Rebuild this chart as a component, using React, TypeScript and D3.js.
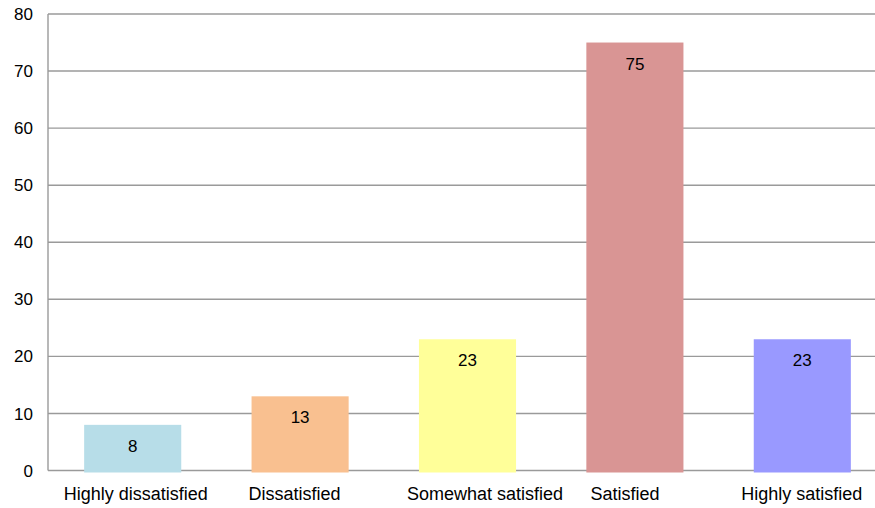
import React from "react";
import * as d3 from "d3";

const categories = ["Highly dissatisfied", "Dissatisfied", "Somewhat satisfied", "Satisfied", "Highly satisfied"];
const values = [8, 13, 23, 75, 23];
const colors = ["#b7dde8", "#f9c090", "#ffff99", "#d99594", "#9999ff"];
const yTicks = [0, 10, 20, 30, 40, 50, 60, 70, 80];
// horizontal nudge of category labels, as seen in the reference
const labelShift = [3, -5.5, 17.5, -10, -0.5];

const W = 875;
const H = 508;
const left = 48;
const top = 14;
const bottom = 470.5;

export default function App() {
  const x = d3.scaleBand<string>().domain(categories).range([left + 1, 886]).paddingInner(0.42).paddingOuter(0.21);
  const y = d3.scaleLinear().domain([0, 80]).range([bottom, top]);
  const font = "'Liberation Sans', Arial, sans-serif";
  return (
    <svg width={W} height={H} style={{ position: "absolute", left: 0, top: 0 }} fontFamily={font}>
      {yTicks.map((t) => (
        <g key={t}>
          {t > 0 && <line x1={left} x2={W} y1={y(t)} y2={y(t)} stroke="#9a9a9a" strokeWidth={1.4} />}
          <text x={33} y={y(t)} dy="0.36em" textAnchor="end" fontSize={17} fill="#000">{t}</text>
        </g>
      ))}
      <line x1={left} x2={left} y1={top} y2={bottom} stroke="#9a9a9a" strokeWidth={1.4} />
      <line x1={left} x2={W} y1={bottom} y2={bottom} stroke="#9a9a9a" strokeWidth={1.4} />
      {categories.map((c, i) => (
        <g key={c}>
          <rect x={x(c)} y={y(values[i])} width={x.bandwidth()} height={bottom - y(values[i]) + 2} fill={colors[i]} />
          <text x={(x(c) as number) + x.bandwidth() / 2} y={y(values[i]) + 21} dy="0.36em" textAnchor="middle" fontSize={17} fill="#000">{values[i]}</text>
          <text x={(x(c) as number) + x.bandwidth() / 2 + labelShift[i]} y={500} textAnchor="middle" fontSize={18} fill="#000">{c}</text>
        </g>
      ))}
    </svg>
  );
}
